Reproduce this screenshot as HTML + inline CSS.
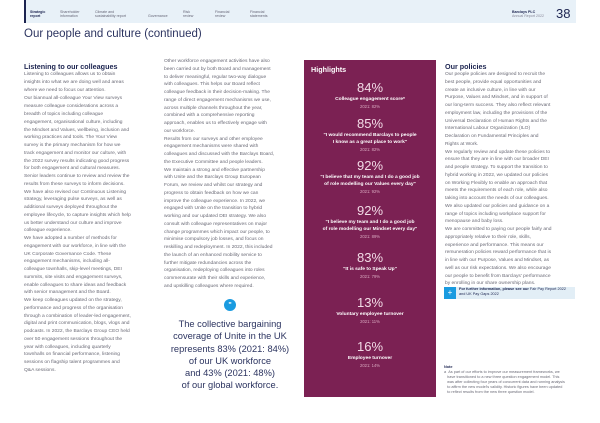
<!DOCTYPE html>
<html><head><meta charset="utf-8"><style>
*{margin:0;padding:0;box-sizing:border-box}
body{width:600px;height:423px;background:#fff;font-family:"Liberation Sans",sans-serif;position:relative;overflow:hidden;color:#555}
.hdr{position:absolute;left:24px;top:0;width:552px;height:23px;background:#e8f1f8}
.tab{position:absolute;top:10px;font-size:3.6px;line-height:4.2px;color:#667;}
.p{position:absolute;font-size:4.9px;line-height:7.75px;white-space:nowrap;color:#6a6a76}
.h{position:absolute;font-size:7.2px;font-weight:bold;color:#1c2450}
.hl{position:absolute;left:304px;top:60px;width:132px;height:337px;background:#7b2153;color:#fff;text-align:center}
.big{position:absolute;left:0;width:132px;font-size:13px;color:#f2dbe6}
.lab{position:absolute;left:0;width:132px;font-size:4.9px;font-weight:bold;line-height:7px;color:#fff}
.yr{position:absolute;left:0;width:132px;font-size:4.2px;color:#d9a9c0}
.q{position:absolute;left:160px;width:140px;text-align:center;font-size:9.3px;line-height:12.3px;color:#2c3460;top:318px}
</style></head><body>
<div class="hdr"></div>
<div style="position:absolute;left:24px;top:0;width:2px;height:23px;background:#1c2450"></div>
<div class="tab" style="left:30px;color:#1c2450;font-weight:bold">Strategic<br>report</div>
<div class="tab" style="left:60px">Shareholder<br>information</div>
<div class="tab" style="left:95px">Climate and<br>sustainability report</div>
<div class="tab" style="left:148px;top:14px">Governance</div>
<div class="tab" style="left:183px">Risk<br>review</div>
<div class="tab" style="left:215px">Financial<br>review</div>
<div class="tab" style="left:250px">Financial<br>statements</div>
<div class="tab" style="left:512px;color:#1c2450;font-weight:bold">Barclays PLC<br><span style="font-weight:normal;color:#889">Annual Report 2022</span></div>
<div style="position:absolute;left:556px;top:6px;font-size:13px;color:#1c2450">38</div>
<div style="position:absolute;left:24px;top:28px;font-size:11.5px;color:#2c3460">Our people and culture (continued)</div>

<div class="h" style="left:24px;top:62px">Listening to our colleagues</div>
<div class="p" style="left:24px;top:71px">Listening to colleagues allows us to obtain<br>insights into what we are doing well and areas<br>where we need to focus our attention.<br><span style="line-height:9px">Our biannual all-colleague Your View surveys</span><br>measure colleague considerations across a<br>breadth of topics including colleague<br>engagement, organisational culture, including<br>the Mindset and Values, wellbeing, inclusion and<br>working practices and tools. The Your View<br>survey is the primary mechanism for how we<br>track engagement and monitor our culture, with<br>the 2022 survey results indicating good progress<br>for both engagement and cultural measures.<br>Senior leaders continue to review and review the<br>results from these surveys to inform decisions.<br>We have also revised our Continuous Listening<br>strategy, leveraging pulse surveys, as well as<br>additional surveys deployed throughout the<br>employee lifecycle, to capture insights which help<br>us better understand our culture and improve<br>colleague experience.<br>We have adopted a number of methods for<br>engagement with our workforce, in line with the<br>UK Corporate Governance Code. These<br>engagement mechanisms, including all-<br>colleague townhalls, skip-level meetings, DEI<br>summits, site visits and engagement surveys,<br>enable colleagues to share ideas and feedback<br>with senior management and the Board.<br>We keep colleagues updated on the strategy,<br>performance and progress of the organisation<br>through a combination of leader-led engagement,<br>digital and print communication, blogs, vlogs and<br>podcasts. In 2022, the Barclays Group CEO held<br>over 50 engagement sessions throughout the<br>year with colleagues, including quarterly<br>townhalls on financial performance, listening<br>sessions on flagship talent programmes and<br>Q&amp;A sessions.</div>

<div class="p" style="left:164px;top:58px">Other workforce engagement activities have also<br>been carried out by both Board and management<br>to deliver meaningful, regular two-way dialogue<br>with colleagues. This helps our Board reflect<br>colleague feedback in their decision-making. The<br>range of direct engagement mechanisms we use,<br>across multiple channels throughout the year,<br>combined with a comprehensive reporting<br>approach, enables us to effectively engage with<br>our workforce.<br>Results from our surveys and other employee<br>engagement mechanisms were shared with<br>colleagues and discussed with the Barclays Board,<br>the Executive Committee and people leaders.<br>We maintain a strong and effective partnership<br>with Unite and the Barclays Group European<br>Forum, we review and whilst our strategy and<br>progress to obtain feedback on how we can<br>improve the colleague experience. In 2022, we<br>engaged with Unite on the transition to hybrid<br>working and our updated DEI strategy. We also<br>consult with colleague representatives on major<br>change programmes which impact our people, to<br>minimise compulsory job losses, and focus on<br>reskilling and redeployment. In 2022, this included<br>the launch of an enhanced mobility service to<br>further mitigate redundancies across the<br>organisation, redeploying colleagues into roles<br>commensurate with their skills and experience,<br>and upskilling colleagues where required.</div>
<div style="position:absolute;left:224px;top:299px;width:12px;height:12px;border-radius:50%;background:#1a9be0;color:#fff;font-size:7px;text-align:center;line-height:13px;font-weight:bold">"</div>
<div class="q">The collective bargaining<br>coverage of Unite in the UK<br>represents 83% (2021: 84%)<br>of our UK workforce<br>and 43% (2021: 48%)<br>of our global workforce.</div>

<div class="hl">
<div style="position:absolute;left:7px;top:5px;font-size:7.2px;font-weight:bold;color:#fff">Highlights</div>
<div class="big" style="top:20px">84%</div><div class="lab" style="top:36px">Colleague engagement score*</div><div class="yr" style="top:44px">2021: 82%</div>
<div class="big" style="top:56px">85%</div><div class="lab" style="top:72px">"I would recommend Barclays to people<br>I know as a great place to work"</div><div class="yr" style="top:87px">2021: 82%</div>
<div class="big" style="top:98px">92%</div><div class="lab" style="top:114px">"I believe that my team and I do a good job<br>of role modelling our Values every day"</div><div class="yr" style="top:129px">2021: 92%</div>
<div class="big" style="top:143px">92%</div><div class="lab" style="top:159px">"I believe my team and I do a good job<br>of role modelling our Mindset every day"</div><div class="yr" style="top:174px">2021: 89%</div>
<div class="big" style="top:190px">83%</div><div class="lab" style="top:206px">"It is safe to Speak Up"</div><div class="yr" style="top:214px">2021: 79%</div>
<div class="big" style="top:235px">13%</div><div class="lab" style="top:251px">Voluntary employee turnover</div><div class="yr" style="top:259px">2021: 11%</div>
<div class="big" style="top:279px">16%</div><div class="lab" style="top:295px">Employee turnover</div><div class="yr" style="top:303px">2021: 14%</div>
</div>

<div class="h" style="left:445px;top:62px">Our policies</div>
<div class="p" style="left:445px;top:71px">Our people policies are designed to recruit the<br>best people, provide equal opportunities and<br>create an inclusive culture, in line with our<br>Purpose, Values and Mindset, and in support of<br>our long-term success. They also reflect relevant<br>employment law, including the provisions of the<br>Universal Declaration of Human Rights and the<br>International Labour Organization (ILO)<br>Declaration on Fundamental Principles and<br>Rights at Work.<br>We regularly review and update these policies to<br>ensure that they are in line with our broader DEI<br>and people strategy. To support the transition to<br>hybrid working in 2022, we updated our policies<br>on Working Flexibly to enable an approach that<br>meets the requirements of each role, while also<br>taking into account the needs of our colleagues.<br>We also updated our policies and guidance on a<br>range of topics including workplace support for<br>menopause and baby loss.<br>We are committed to paying our people fairly and<br>appropriately relative to their role, skills,<br>experience and performance. This means our<br>remuneration policies reward performance that is<br>in line with our Purpose, Values and Mindset, as<br>well as our risk expectations. We also encourage<br>our people to benefit from Barclays' performance<br>by enrolling in our share ownership plans.</div>
<div style="position:absolute;left:444px;top:287px;width:131px;height:12px;background:#e2eef6"></div>
<div style="position:absolute;left:444px;top:287px;width:12px;height:12px;background:#1a9be0;color:#fff;font-size:8px;line-height:12px;text-align:center">+</div>
<div class="p" style="left:459px;top:287px;font-size:3.8px;line-height:5px;color:#1c2450"><b>For further information, please see our</b> Fair Pay Report 2022<br>and UK Pay Gaps 2022</div>
<div class="p" style="left:444px;top:365px;font-size:3.8px;line-height:5.1px"><b style="color:#1c2450">Note</b><br>a &nbsp;As part of our efforts to improve our measurement frameworks, we<br>&nbsp;&nbsp;&nbsp;have transitioned to a new three question engagement model. This<br>&nbsp;&nbsp;&nbsp;was after collecting four years of concurrent data and running analysis<br>&nbsp;&nbsp;&nbsp;to affirm the new model's validity. Historic figures have been updated<br>&nbsp;&nbsp;&nbsp;to reflect results from the new three question model.</div>
</body></html>
